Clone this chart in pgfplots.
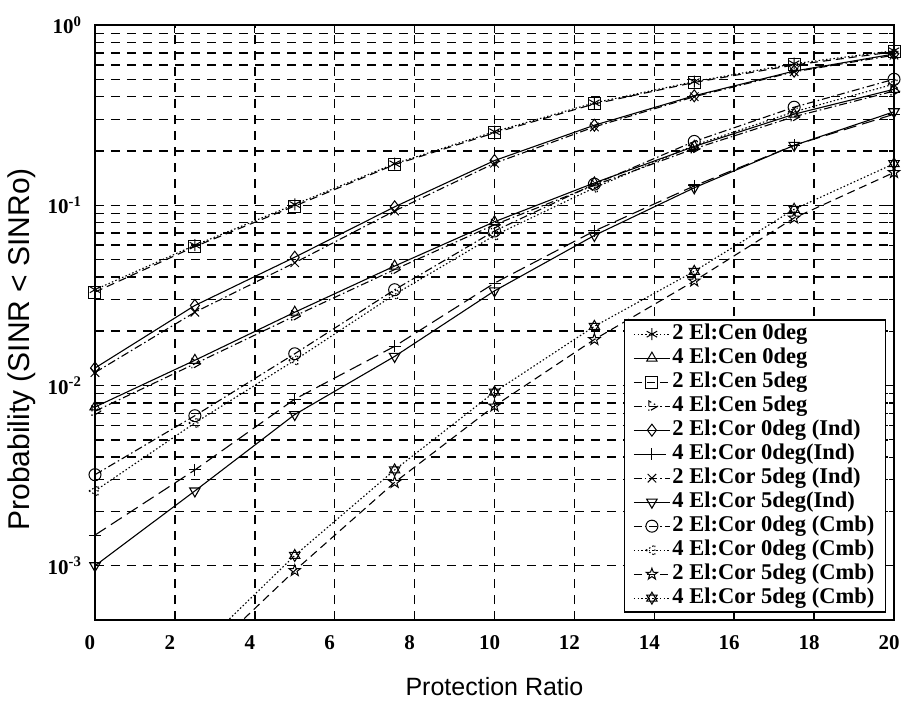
\documentclass[border=0pt]{standalone}
\usepackage{pgfplots}
\pgfplotsset{compat=1.18}
\usepackage{fontspec}
\setmainfont{Liberation Serif}
\setsansfont{Liberation Sans}

\pgfdeclareplotmark{hexagram}{%
 \pgfpathmoveto{\pgfqpointpolar{90}{\pgfplotmarksize}}%
 \pgfpathlineto{\pgfqpointpolar{210}{\pgfplotmarksize}}%
 \pgfpathlineto{\pgfqpointpolar{330}{\pgfplotmarksize}}%
 \pgfpathclose
 \pgfpathmoveto{\pgfqpointpolar{270}{\pgfplotmarksize}}%
 \pgfpathlineto{\pgfqpointpolar{30}{\pgfplotmarksize}}%
 \pgfpathlineto{\pgfqpointpolar{150}{\pgfplotmarksize}}%
 \pgfpathclose
 \pgfusepathqstroke}
\pgfdeclareplotmark{pentagram}{%
 \pgfpathmoveto{\pgfqpointpolar{90}{\pgfplotmarksize}}%
 \pgfpathlineto{\pgfqpointpolar{126}{0.4\pgfplotmarksize}}%
 \pgfpathlineto{\pgfqpointpolar{162}{\pgfplotmarksize}}%
 \pgfpathlineto{\pgfqpointpolar{198}{0.4\pgfplotmarksize}}%
 \pgfpathlineto{\pgfqpointpolar{234}{\pgfplotmarksize}}%
 \pgfpathlineto{\pgfqpointpolar{270}{0.4\pgfplotmarksize}}%
 \pgfpathlineto{\pgfqpointpolar{306}{\pgfplotmarksize}}%
 \pgfpathlineto{\pgfqpointpolar{342}{0.4\pgfplotmarksize}}%
 \pgfpathlineto{\pgfqpointpolar{18}{\pgfplotmarksize}}%
 \pgfpathlineto{\pgfqpointpolar{54}{0.4\pgfplotmarksize}}%
 \pgfpathclose
 \pgfusepathqstroke}

\tikzset{
 dotline/.style={dash pattern=on 1.5pt off 2.2pt},
 dashline/.style={dash pattern=on 8pt off 5pt},
 dashdotline/.style={dash pattern=on 8pt off 3pt on 1.5pt off 3pt},
 longdashline/.style={dash pattern=on 13pt off 6pt},
}

\begin{document}
\begin{tikzpicture}
\useasboundingbox (-95pt,-87pt) rectangle (807pt,620pt);
\begin{axis}[
  scale only axis,
  width=799pt, height=595pt,
  ymode=log,
  xmin=0, xmax=20, ymin=5e-4, ymax=1,
  xtick={0,2,...,20},
  ytick={1e-3,1e-2,1e-1,1},
  yticklabels={10\textsuperscript{-3},10\textsuperscript{-2},10\textsuperscript{-1},10\textsuperscript{0}},
  /pgf/number format/assume math mode=true,
  ticklabel style={font=\fontsize{21}{23}\selectfont\bfseries},
  xticklabel style={yshift=-12pt, xshift=-5pt},
  yticklabel style={xshift=-10pt},
  tick align=inside,
  major tick length=8pt, minor tick length=5pt,
  tick style={line width=1.2pt, black},
  axis line style={line width=1.6pt},
  xmajorgrids, ymajorgrids, yminorgrids,
  major grid style={line width=1.5pt, dash pattern=on 9pt off 7pt, black},
  minor grid style={line width=1.5pt, dash pattern=on 9pt off 7pt, black},
  xlabel={Protection Ratio},
  ylabel={Probability (SINR < SINRo)},
  xlabel style={font=\fontsize{25}{28}\selectfont\sffamily, at={(axis description cs:0.5,0)}, anchor=center, yshift=-67pt},
  ylabel style={font=\fontsize{30}{32}\selectfont\sffamily, at={(axis description cs:0,0.455)}, anchor=center, rotate=0, yshift=73pt},
  clip mode=individual,
  every axis plot/.append style={line width=1.1pt, black, mark size=6pt, mark options={solid, line width=1pt, black, fill=none}},
  legend style={at={(0.99,0.012)}, anchor=south east, draw=black, line width=1.4pt, fill=white,
    font=\fontsize{22.5}{24}\selectfont\bfseries, row sep=0pt, inner xsep=9pt, inner ysep=2pt,
    legend cell align=left, nodes={inner sep=2pt, text height=15pt, text depth=5pt}},
  legend image code/.code={\draw[#1, mark repeat=2, mark phase=2, mark size=6pt] plot coordinates {(0pt,0pt) (18pt,0pt) (36pt,0pt)};},
]
% 2 El:Cen 0deg
\addplot[dotline, mark=asterisk] coordinates {(0,0.034) (2.5,0.060) (5,0.101) (7.5,0.170) (10,0.256) (12.5,0.37) (15,0.485) (17.5,0.61) (20,0.72)};
\addlegendentry{2 El:Cen 0deg}
% 4 El:Cen 0deg
\addplot[solid, mark=triangle] coordinates {(0,0.0076) (2.5,0.0138) (5,0.0255) (7.5,0.046) (10,0.081) (12.5,0.133) (15,0.212) (17.5,0.32) (20,0.44)};
\addlegendentry{4 El:Cen 0deg}
% 2 El:Cen 5deg
\addplot[dashline, mark=square] coordinates {(0,0.033) (2.5,0.059) (5,0.099) (7.5,0.168) (10,0.252) (12.5,0.365) (15,0.48) (17.5,0.60) (20,0.71)};
\addlegendentry{2 El:Cen 5deg}
% 4 El:Cen 5deg
\addplot[dashdotline, mark=triangle, mark options={rotate=-90}] coordinates {(0,0.0072) (2.5,0.0132) (5,0.0243) (7.5,0.044) (10,0.078) (12.5,0.129) (15,0.206) (17.5,0.31) (20,0.43)};
\addlegendentry{4 El:Cen 5deg}
% 2 El:Cor 0deg (Ind)
\addplot[solid, mark=diamond] coordinates {(0,0.0125) (2.5,0.0278) (5,0.0515) (7.5,0.098) (10,0.177) (12.5,0.278) (15,0.405) (17.5,0.555) (20,0.69)};
\addlegendentry{2 El:Cor 0deg (Ind)}
% 4 El:Cor 0deg(Ind)
\addplot[longdashline, mark=+] coordinates {(0,0.00148) (2.5,0.0034) (5,0.0084) (7.5,0.0165) (10,0.037) (12.5,0.072) (15,0.128) (17.5,0.215) (20,0.32)};
\addlegendentry{4 El:Cor 0deg(Ind)}
% 2 El:Cor 5deg (Ind)
\addplot[dashdotline, mark=x] coordinates {(0,0.0118) (2.5,0.0255) (5,0.048) (7.5,0.093) (10,0.171) (12.5,0.272) (15,0.40) (17.5,0.55) (20,0.68)};
\addlegendentry{2 El:Cor 5deg (Ind)}
% 4 El:Cor 5deg(Ind)
\addplot[solid, mark=triangle, mark options={rotate=180}] coordinates {(0,0.001) (2.5,0.0026) (5,0.0069) (7.5,0.0145) (10,0.0335) (12.5,0.068) (15,0.125) (17.5,0.215) (20,0.33)};
\addlegendentry{4 El:Cor 5deg(Ind)}
% 2 El:Cor 0deg (Cmb)
\addplot[dashdotline, mark=o] coordinates {(0,0.0032) (2.5,0.0068) (5,0.015) (7.5,0.034) (10,0.072) (12.5,0.131) (15,0.226) (17.5,0.35) (20,0.50)};
\addlegendentry{2 El:Cor 0deg (Cmb)}
% 4 El:Cor 0deg (Cmb)
\addplot[dotline, mark=triangle, mark options={rotate=90}] coordinates {(0,0.0026) (2.5,0.0062) (5,0.0138) (7.5,0.032) (10,0.068) (12.5,0.125) (15,0.215) (17.5,0.33) (20,0.47)};
\addlegendentry{4 El:Cor 0deg (Cmb)}
% 2 El:Cor 5deg (Cmb)
\addplot[dashline, mark=pentagram] coordinates {(0,0.00008) (2.5,0.00028) (5,0.00094) (7.5,0.0029) (10,0.0077) (12.5,0.018) (15,0.038) (17.5,0.085) (20,0.152)};
\addlegendentry{2 El:Cor 5deg (Cmb)}
% 4 El:Cor 5deg (Cmb)
\addplot[dotline, mark=hexagram] coordinates {(0,0.0001) (2.5,0.00033) (5,0.00114) (7.5,0.0034) (10,0.0092) (12.5,0.0213) (15,0.043) (17.5,0.095) (20,0.17)};
\addlegendentry{4 El:Cor 5deg (Cmb)}
\end{axis}
\end{tikzpicture}
\end{document}
